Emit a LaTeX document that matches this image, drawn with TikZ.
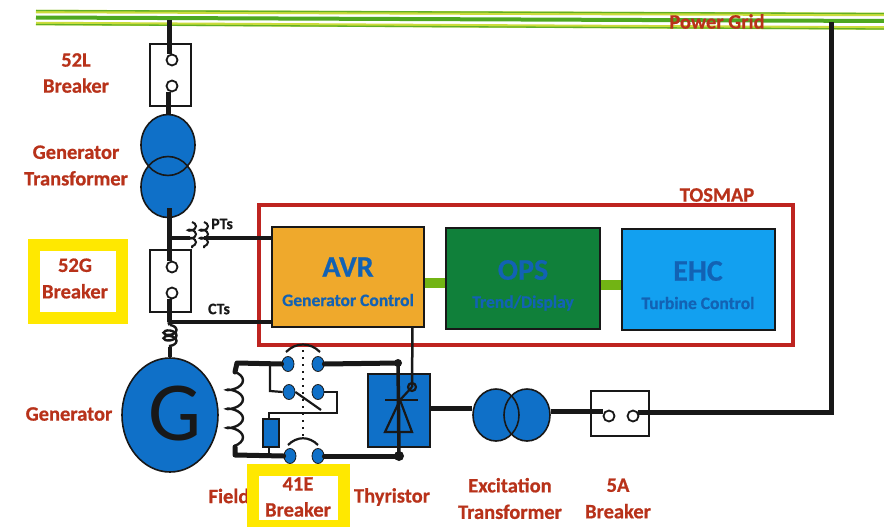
\documentclass[tikz,border=0pt]{standalone}
\usepackage{fontspec}
\setmainfont[BoldFeatures={FakeBold=0.6}]{Carlito}
\usetikzlibrary{decorations.pathmorphing,shapes.geometric}
\definecolor{lbl}{HTML}{B8321A}
\definecolor{eqblue}{HTML}{0F70C8}
\definecolor{wire}{HTML}{181818}
\definecolor{redf}{HTML}{BE2420}
\definecolor{gy}{HTML}{CBDC3C}
\definecolor{gg}{HTML}{4EA820}
\definecolor{link}{HTML}{72B414}
\definecolor{txtb}{HTML}{1262B4}
\definecolor{avrf}{HTML}{EFA92C}
\definecolor{opsf}{HTML}{10803A}
\definecolor{ehcf}{HTML}{12A0F0}
\definecolor{yfr}{HTML}{FFE800}
\tikzset{
  x=1pt,y=-1pt,
  lab/.style={font=\fontsize{20.5}{20.5}\selectfont\bfseries,text=lbl,inner sep=0pt,align=center},
  tag/.style={font=\fontsize{16}{16}\selectfont\bfseries,text=wire,inner sep=0pt},
  big/.style={font=\fontsize{30}{30}\selectfont\bfseries,text=txtb,inner sep=0pt},
  small/.style={font=\fontsize{17.5}{17.5}\selectfont\bfseries,text=txtb,inner sep=0pt},
  thick wire/.style={draw=wire,line width=5pt},
  mid wire/.style={draw=wire,line width=3.5pt},
  thin wire/.style={draw=wire,line width=2.2pt},
  brkbox/.style={draw=wire,line width=1.5pt,fill=white,inner sep=0pt,minimum width=#1},
  brkbox/.default=41pt,
  contact/.style={circle,draw=wire,line width=1.8pt,fill=white,minimum size=11pt,inner sep=0pt},
  eqcirc/.style={ellipse,draw=wire,line width=1.6pt,fill=eqblue,inner sep=0pt},
  term/.style={ellipse,draw=wire,line width=.8pt,fill=eqblue,minimum width=12pt,minimum height=15pt,inner sep=0pt},
  ctrl/.style={draw=wire,line width=2.2pt,inner sep=0pt,minimum width=152pt,minimum height=100pt},
  yframe/.style={draw=yfr,line width=12pt,fill=white,inner sep=0pt},
  coilw/.style 2 args={draw=wire,line width=2pt,decorate,decoration={coil,aspect=.55,segment length=#1,amplitude=#2}},
  linkbar/.style={draw=link,line width=10pt},
}
\begin{document}
\begin{tikzpicture}
\useasboundingbox (0,0) rectangle (884,527);
\fill[white] (0,0) rectangle (884,527);
% power grid
\coordinate (gtl) at (36,11.5); \coordinate (gtr) at (884,14.5);
\coordinate (gml) at (36,17.5); \coordinate (gmr) at (884,21);
\coordinate (gbl) at (36,23.5); \coordinate (gbr) at (884,28);
\draw[gy,line width=3.5pt] (gtl) -- (gtr);
\draw[gg,line width=4pt] (gml) -- (gmr);
\draw[gy,line width=3.5pt] (gbl) -- (gbr);
\draw[gg!85!gy,line width=1.3pt] ([yshift=1pt]gtl) -- ([yshift=1pt]gtr);
\draw[gg!85!gy,line width=1.3pt] ([yshift=-1pt]gbl) -- ([yshift=-1pt]gbr);
\coordinate (tapL) at (169,20);
\coordinate (tapR) at (831,22);
\node[font=\fontsize{20.5}{20.5}\selectfont\bfseries,text=lbl,inner sep=0pt] (pg) at (717,21.5) {Power Grid};
% labels hidden in part by a frame
\node[lab] (l5) at (229,496) {Field};
% yellow frames
\node[yframe,minimum width=88pt,minimum height=73pt] (f52G) at (78,281.5) {};
\node[yframe,minimum width=91pt,minimum height=56pt] (f41E) at (298.5,498) {};
% 52L
\node[brkbox,minimum height=62pt] (b52L) at (170.5,75) {};
\node[contact] (c1) at (172,60) {};
\node[contact] (c2) at (172,86) {};
% generator transformer
\node[eqcirc,minimum width=54pt,minimum height=61pt] (gt1) at (168,145) {};
\node[eqcirc,minimum width=54pt,minimum height=61pt] (gt2) at (168,187) {};
\begin{scope}
\clip (gt2.center) ellipse [x radius=27pt,y radius=30.5pt];
\node[eqcirc,fill=none,minimum width=54pt,minimum height=61pt] (gt1b) at (168,145) {};
\end{scope}
\draw[thick wire] (tapL) -- (tapL |- c1.north);
\draw[thick wire] (gt1.north |- c2.south) -- (gt1.north);
% 52G
\node[brkbox,minimum height=62pt] (b52G) at (170.5,281) {};
\node[contact] (c3) at (172,267) {};
\node[contact] (c4) at (172,293) {};
\coordinate (gtb) at (169,208);
\coordinate (ptj) at (169,238);
\coordinate (ctj) at (169,322);
\draw[thick wire] (gtb) -- (ptj) -- (ptj |- c3.north);
% generator
\node[eqcirc,minimum width=96pt,minimum height=114pt] (G) at (170,415) {};
\node[font=\fontsize{84}{84}\selectfont,text=wire,inner sep=0pt] (Gt) at (175,414) {G};
\coordinate (cc1) at (170,325);
\coordinate (cc2) at (170,347);
\draw[thick wire] (ptj |- c4.south) -- (ctj);
\draw[mid wire] (ctj) -- (cc1);
\draw[coilw={5.5pt}{6.5pt},line width=2.4pt] (cc1) -- (cc2);
\draw[mid wire] (cc2) -- (cc2 |- G.north);
% PTs
\coordinate (pa) at (192,222); \coordinate (pb) at (192,248);
\coordinate (pc) at (204,222); \coordinate (pd) at (204,248);
\draw[coilw={8pt}{4pt}] (pa) -- (pb);
\draw[coilw={8pt}{4pt}] (pc) -- (pd);
\coordinate (pl) at (190,238);
\coordinate (pr) at (204,238);
\node[tag] (PTs) at (222,224) {PTs};
\node[tag] (CTs) at (219,309) {CTs};
% control boxes
\node[draw=redf,line width=3.5pt,minimum width=534pt,minimum height=140pt,inner sep=0pt] (tos) at (526,275) {};
\node[font=\fontsize{20.5}{20.5}\selectfont\bfseries,text=lbl,inner sep=0pt] (tosl) at (717,195) {TOSMAP};
\node[ctrl,fill=avrf] (avr) at (348,277) {};
\node[ctrl,fill=opsf,minimum width=154pt,minimum height=101pt] (ops) at (523,278.5) {};
\node[ctrl,fill=ehcf,minimum width=153pt,minimum height=101pt] (ehc) at (698.5,279.5) {};
\draw[linkbar] (avr.east |- 0,283) -- (ops.west |- 0,283);
\draw[linkbar] (ops.east |- 0,285) -- (ehc.west |- 0,285);
\node[big] (avrt) at (348,267) {AVR};
\node[small] (avrs) at (348,300) {Generator Control};
\node[big] (opst) at (523,270) {OPS};
\node[small] (opss) at (523,303) {Trend/Display};
\node[big] (ehct) at (698,271) {EHC};
\node[small] (ehcs) at (698,303) {Turbine Control};
% PT/CT wires
\draw[mid wire] (ptj) -- (pl);
\draw[mid wire] (pr) -- (avr.west |- pr);
\draw[mid wire] (ctj) -- (avr.west |- ctj);
% thyristor
\node[draw=wire,line width=1.5pt,fill=eqblue,minimum width=62pt,minimum height=73pt,inner sep=0pt] (thy) at (399,410.5) {};
\coordinate (avrd) at (412.5,327);
\coordinate (ga) at (412,387);
\coordinate (th1) at (398,363);
\coordinate (th2) at (399,456);
\coordinate (barl) at (385,400); \coordinate (barr) at (418,400);
\coordinate (tril) at (385,432); \coordinate (trir) at (412,432);
\draw[draw=wire,line width=2.5pt] (avrd) -- (ga);
\draw[thin wire] (ga) circle [radius=4pt];
\draw[thin wire] (400,400) -- (ga);
\draw[thin wire] (barl) -- (barr);
\draw[thin wire] (400,400) -- (tril) -- (trir) -- cycle;
\draw[draw=wire,line width=3.5pt] (th1) -- (th2);
% field coil
\coordinate (fa) at (235,372); \coordinate (fb) at (235,447);
\draw[draw=wire,line width=2.4pt,decorate,decoration={coil,aspect=.45,segment length=19pt,amplitude=8pt}] (fa) -- (fb);
% terminals
\draw[draw=wire,line width=1.4pt,dash pattern=on 2pt off 5pt] (303,350) -- (303,440);
\draw[thin wire] (286,352) .. controls (296,342) and (310,342) .. (320,352);
\draw[thin wire] (288,445) .. controls (297,436) and (309,436) .. (318,445);
\coordinate (fl1) at (237,363); \coordinate (fl2) at (235,455);
\coordinate (jr) at (270,363);
\coordinate (s1) at (270,391);
\coordinate (s2) at (337,392); \coordinate (s3) at (337,413); \coordinate (s4) at (269,413);
\coordinate (bl) at (321,410);
\node[term] (t1) at (288,364) {};
\node[term] (t2) at (318,364) {};
\node[term] (t3) at (289,392) {};
\node[term] (t4) at (318,392) {};
\node[term] (t5) at (290,456) {};
\node[term] (t6) at (318,456) {};
\draw[thick wire,line cap=round,line join=round] (fa) -- (fl1) -- (t1.west);
\draw[thick wire,line cap=round] (t2.east) -- (th1);
\draw[thick wire,line cap=round,line join=round] (fb) -- (fl2) -- (t5.west);
\draw[thick wire,line cap=round] (t6.east) -- (th2);
\fill[wire] (th1) circle [radius=4pt];
\fill[wire] (th2) circle [radius=5pt];
% resistor and switch
\node[draw=wire,line width=1.2pt,fill=eqblue,minimum width=16pt,minimum height=28pt,inner sep=0pt] (res) at (271,433) {};
\draw[thin wire] (jr) -- (s1) -- (t3.west);
\draw[thin wire] (t4.east) -- (s2) -- (s3) -- (s4) -- (res.north -| s4);
\draw[thin wire] (res.south -| s4) -- (s4 |- fl2);
\draw[thin wire] (t3.east) -- (bl);
% excitation transformer
\node[eqcirc,minimum width=46pt,minimum height=52pt] (et1) at (496,415) {};
\node[eqcirc,minimum width=46pt,minimum height=52pt] (et2) at (527,415) {};
\begin{scope}
\clip (et2.center) ellipse [x radius=23pt,y radius=26pt];
\node[eqcirc,fill=none,minimum width=46pt,minimum height=52pt] (et1b) at (496,415) {};
\end{scope}
\draw[thick wire] (thy.east |- 0,408) -- (et1.west |- 0,408);
% 5A
\node[brkbox=58pt,minimum height=45pt] (b5A) at (620,413.5) {};
\node[contact] (c5) at (609,416) {};
\node[contact] (c6) at (633,416) {};
\coordinate (cor) at (831,412);
\draw[thick wire] (et2.east |- 0,411) -- (c5.west |- 0,411);
\draw[thick wire,line join=miter] (c6.north east |- cor) -- (cor) -- (tapR);
% labels
\node[lab] (l1) at (76,73) {52L\\[5.5pt]Breaker};
\node[lab] (l2) at (76,165.5) {Generator\\[6pt]Transformer};
\node[lab] (l3) at (75,278.5) {52G\\[6pt]Breaker};
\node[lab] (l4) at (69,414) {Generator};
\node[lab] (l6) at (298,497) {41E\\[5.5pt]Breaker};
\node[lab] (l7) at (392,497) {Thyristor};
\node[lab] (l8) at (510,498.5) {Excitation\\[6pt]Transformer};
\node[lab] (l9) at (618,498.5) {5A\\[6pt]Breaker};
\end{tikzpicture}
\end{document}
